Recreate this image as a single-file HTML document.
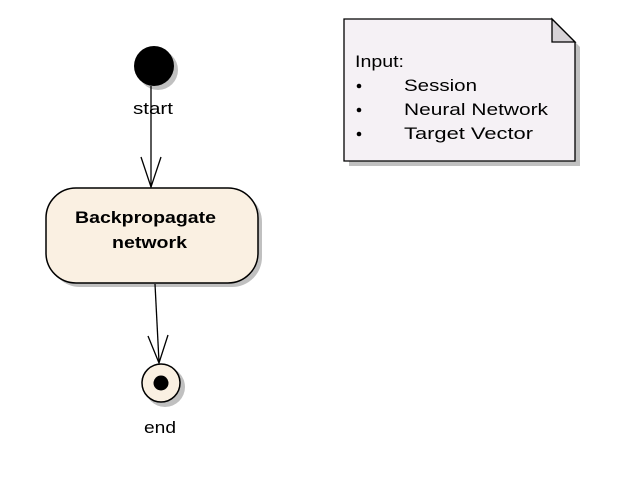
<!DOCTYPE html>
<html><head><meta charset="utf-8"><style>html,body{margin:0;padding:0;background:#fff}</style></head>
<body>
<svg width="638" height="476" xmlns="http://www.w3.org/2000/svg" font-family="Liberation Sans, Arial, sans-serif">
<!-- start -->
<circle cx="158" cy="70" r="20" fill="#c0c0c0"/>
<circle cx="154" cy="66" r="20" fill="#000"/>
<text x="133" y="114" font-size="17" textLength="40" lengthAdjust="spacingAndGlyphs">start</text>
<line x1="151" y1="86" x2="151" y2="187" stroke="#000" stroke-width="1.3"/>
<polyline points="141,157 151,187 161,157" fill="none" stroke="#000" stroke-width="1.3"/>
<!-- activity -->
<rect x="50" y="192" width="212" height="95" rx="30" fill="#c0c0c0"/>
<rect x="46" y="188" width="212" height="95" rx="30" fill="#faf0e2" stroke="#000" stroke-width="1.5"/>
<text x="75" y="223" font-size="17" font-weight="bold" textLength="141" lengthAdjust="spacingAndGlyphs">Backpropagate</text>
<text x="112" y="248" font-size="17" font-weight="bold" textLength="75" lengthAdjust="spacingAndGlyphs">network</text>
<line x1="155" y1="284" x2="159" y2="362" stroke="#000" stroke-width="1.3"/>
<polyline points="148,336 159,363 168,335" fill="none" stroke="#000" stroke-width="1.3"/>
<!-- end -->
<circle cx="165" cy="387" r="20" fill="#c0c0c0"/>
<circle cx="161" cy="383" r="19" fill="#faf0e2" stroke="#000" stroke-width="1.5"/>
<circle cx="161" cy="383" r="7.5" fill="#000"/>
<text x="144" y="433" font-size="17" textLength="32" lengthAdjust="spacingAndGlyphs">end</text>
<!-- note -->
<polygon points="349,24 557,24 580,47 580,166 349,166" fill="#c0c0c0"/>
<polygon points="344,19 552,19 575,42 575,161 344,161" fill="#f5f1f5" stroke="#000" stroke-width="1.3"/>
<polygon points="552,19 552,42 575,42" fill="#d6d2d6" stroke="#000" stroke-width="1.3"/>
<g font-size="17" fill="#000" lengthAdjust="spacingAndGlyphs">
<text x="355" y="67" textLength="49" lengthAdjust="spacingAndGlyphs">Input:</text>
<circle cx="359" cy="86" r="2.3"/><text x="404" y="91" textLength="73" lengthAdjust="spacingAndGlyphs">Session</text>
<circle cx="359" cy="110" r="2.3"/><text x="404" y="115" textLength="144" lengthAdjust="spacingAndGlyphs">Neural Network</text>
<circle cx="359" cy="134" r="2.3"/><text x="404" y="139" textLength="129" lengthAdjust="spacingAndGlyphs">Target Vector</text>
</g>
</svg>
</body></html>
